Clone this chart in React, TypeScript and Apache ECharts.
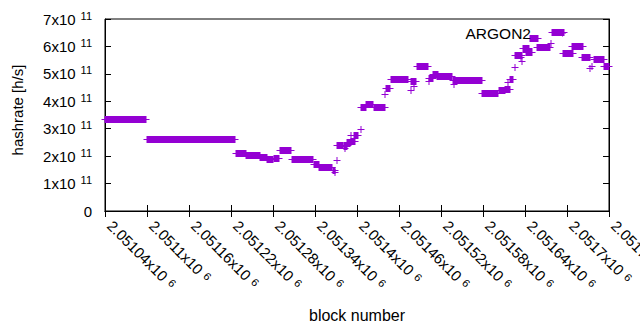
import React, { useEffect, useRef } from "react";
import * as echarts from "echarts";

// ---- data: runs of blocks sharing one hashrate (first block, last block, hashrate) ----
const segStart = [
  2051040, 2051100, 2051227, 2051242, 2051262, 2051272, 2051281, 2051290, 2051307, 2051338,
  2051346, 2051365, 2051369, 2051371, 2051372, 2051381, 2051383, 2051386, 2051391, 2051392,
  2051395, 2051406, 2051406, 2051413, 2051424, 2051440, 2051442, 2051448, 2051477, 2051477,
  2051481, 2051485, 2051503, 2051503, 2051509, 2051514, 2051537, 2051538, 2051578, 2051603,
  2051612, 2051616, 2051618, 2051626, 2051626, 2051634, 2051635, 2051637, 2051642, 2051647,
  2051657, 2051677, 2051679, 2051694, 2051707, 2051721, 2051733, 2051735, 2051739, 2051753,
];
const segEnd = [
  2051099, 2051226, 2051241, 2051261, 2051271, 2051280, 2051289, 2051306, 2051337, 2051346,
  2051364, 2051369, 2051369, 2051371, 2051380, 2051385, 2051383, 2051391, 2051397, 2051392,
  2051402, 2051406, 2051413, 2051423, 2051440, 2051440, 2051447, 2051473, 2051477, 2051484,
  2051481, 2051501, 2051503, 2051509, 2051516, 2051536, 2051579, 2051538, 2051602, 2051612,
  2051618, 2051616, 2051623, 2051626, 2051635, 2051634, 2051635, 2051645, 2051650, 2051659,
  2051676, 2051677, 2051695, 2051708, 2051723, 2051733, 2051733, 2051735, 2051753, 2051760,
];
const hashrate = [
  3.34e11, 2.62e11, 2.13e11, 2.05e11, 1.97e11, 1.89e11, 1.93e11, 2.22e11, 1.88e11, 1.72e11,
  1.6e11, 1.5e11, 1.42e11, 1.86e11, 2.42e11, 2.38e11, 2.29e11, 2.5e11, 2.55e11, 2.77e11,
  2.77e11, 2.98e11, 3.78e11, 3.9e11, 3.78e11, 4.26e11, 4.5e11, 4.8e11, 4.42e11, 4.75e11,
  4.56e11, 5.28e11, 4.74e11, 4.86e11, 5.0e11, 4.92e11, 4.77e11, 4.62e11, 4.32e11, 4.4e11,
  4.46e11, 4.72e11, 4.8e11, 5.24e11, 5.69e11, 5.6e11, 5.48e11, 5.94e11, 5.8e11, 6.3e11,
  5.99e11, 6.12e11, 6.52e11, 5.77e11, 6.0e11, 5.6e11, 5.2e11, 5.3e11, 5.54e11, 5.29e11,
];
const seriesName = "ARGON2";
const xMin = 2051040;
const xMax = 2051760;
const xStep = 60;
const yMin = 0;
const yMax = 7e11;
const yStep = 1e11;

const FONT = "'Liberation Sans', Arial, sans-serif";
const COLOR = "#9400d3";
const HALF = 3.5;

export default function App() {
  const ref = useRef<HTMLDivElement>(null);

  useEffect(() => {
    if (!ref.current) return;
    const chart = echarts.init(ref.current, null, { renderer: "svg" });
    const data = segStart.map((s, i) => [s, segEnd[i], hashrate[i]]);

    const yRich = {
      m: { fontSize: 15, fontFamily: FONT, color: "#000", lineHeight: 18 },
      s: { fontSize: 11, fontFamily: FONT, color: "#000", lineHeight: 11, verticalAlign: "top", padding: [0, 0, 0, 5] },
    };
    const xRich = {
      m: { fontSize: 15, fontFamily: FONT, color: "#000", lineHeight: 14 },
      s: { fontSize: 11, fontFamily: FONT, color: "#000", lineHeight: 11, verticalAlign: "top", padding: [0, 0, 0, 5] },
    };

    const option: any = {
      animation: false,
      backgroundColor: "#fff",
      grid: {
        left: 105,
        right: 31,
        top: 19,
        bottom: 119,
        show: true,
        containLabel: false,
        outerBoundsMode: "none",
        borderColor: "#000",
        borderWidth: 1,
        backgroundColor: "transparent",
      },
      legend: {
        data: [{ name: seriesName, icon: "path://M0,3h7v1h-7zM3,0h1v7h-1z" }],
        right: 69,
        top: 20,
        align: "right",
        itemWidth: 7,
        itemHeight: 7,
        textStyle: { fontSize: 15.5, fontFamily: FONT, color: "#000", padding: [0, 23, 0, 0] },
        selectedMode: false,
      },
      xAxis: [
        {
          type: "value",
          min: xMin,
          max: xMax,
          interval: xStep,
          name: "block number",
          nameLocation: "middle",
          nameGap: 96,
          nameTextStyle: { fontSize: 16, fontFamily: FONT, color: "#000" },
          axisLine: { show: true, lineStyle: { color: "#000", width: 1 } },
          axisTick: { show: true, inside: true, length: 6, lineStyle: { color: "#000" } },
          splitLine: { show: false },
          axisLabel: {
            rotate: -45,
            margin: 17,
            align: "left",
            verticalAlign: "bottom",
            showMinLabel: true,
            showMaxLabel: true,
            fontSize: 15,
            fontFamily: FONT,
            color: "#000",
            formatter: (v: number) => `{m|${parseFloat((v / 1e6).toFixed(5))}x10}{s|6}`,
            rich: xRich,
          },
        },
        {
          type: "value",
          position: "top",
          min: xMin,
          max: xMax,
          interval: xStep,
          axisLine: { show: true, lineStyle: { color: "#000", width: 1 } },
          axisTick: { show: true, inside: true, length: 6, lineStyle: { color: "#000" } },
          axisLabel: { show: false },
          splitLine: { show: false },
        },
      ],
      yAxis: [
        {
          type: "value",
          min: yMin,
          max: yMax,
          interval: yStep,
          name: "hashrate [h/s]",
          nameLocation: "middle",
          nameGap: 80,
          nameTextStyle: { fontSize: 15, fontFamily: FONT, color: "#000", padding: [0, 0, 0, 10] },
          axisLine: { show: true, lineStyle: { color: "#000", width: 1 } },
          axisTick: { show: true, inside: true, length: 6, lineStyle: { color: "#000" } },
          splitLine: { show: false },
          axisLabel: {
            margin: 13,
            fontSize: 15,
            fontFamily: FONT,
            color: "#000",
            formatter: (v: number) => (v === 0 ? "0" : `{m|${Math.round(v / 1e11)}x10}{s|11}`),
            rich: yRich,
          },
        },
        {
          type: "value",
          position: "right",
          min: yMin,
          max: yMax,
          interval: yStep,
          axisLine: { show: true, lineStyle: { color: "#000", width: 1 } },
          axisTick: { show: true, inside: true, length: 6, lineStyle: { color: "#000" } },
          axisLabel: { show: false },
          splitLine: { show: false },
        },
      ],
      series: [
        {
          name: seriesName,
          type: "custom",
          xAxisIndex: 0,
          yAxisIndex: 0,
          itemStyle: { color: COLOR },
          encode: { x: [0, 1], y: 2 },
          data,
          renderItem: (params: any, api: any) => {
            const p0 = api.coord([api.value(0), api.value(2)]);
            const p1 = api.coord([api.value(1), api.value(2)]);
            const x0 = Math.round(p0[0]);
            const x1 = Math.round(p1[0]);
            const y = Math.round(p0[1]) + 0.5;
            return {
              type: "group",
              children: [
                {
                  type: "rect",
                  shape: { x: x0 - 0.5, y: y - HALF, width: x1 - x0 + 1, height: HALF * 2 },
                  style: { fill: COLOR },
                },
                {
                  type: "line",
                  shape: { x1: x0 - HALF, y1: y, x2: x1 + HALF, y2: y },
                  style: { stroke: COLOR, lineWidth: 1 },
                },
              ],
            };
          },
        },
      ],
    };

    chart.setOption(option);
    return () => chart.dispose();
  }, []);

  return (
    <div
      ref={ref}
      style={{ position: "fixed", left: 0, top: 0, width: 640, height: 330, background: "#fff" }}
    />
  );
}
